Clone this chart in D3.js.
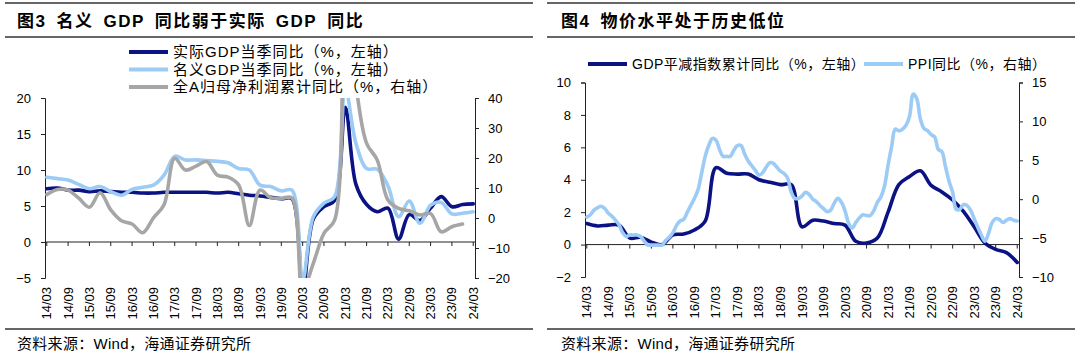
<!DOCTYPE html>
<html><head><meta charset="utf-8">
<script src="https://cdn.jsdelivr.net/npm/d3@7"></script>
<style>
body{margin:0;background:#fff;}
svg text{font-family:"Liberation Sans",Arial,"Noto Sans CJK SC",sans-serif;fill:#000;}
</style>
</head><body>
<svg id="c" width="1080" height="357"></svg>
<script>
// ---------- data ----------
const tickLabels = ["14/03","14/09","15/03","15/09","16/03","16/09","17/03","17/09","18/03","18/09","19/03","19/09","20/03","20/09","21/03","21/09","22/03","22/09","23/03","23/09","24/03"];
const quarterLabels = ["2014-03","2014-06","2014-09","2014-12","2015-03","2015-06","2015-09","2015-12","2016-03","2016-06","2016-09","2016-12","2017-03","2017-06","2017-09","2017-12","2018-03","2018-06","2018-09","2018-12","2019-03","2019-06","2019-09","2019-12","2020-03","2020-06","2020-09","2020-12","2021-03","2021-06","2021-09","2021-12","2022-03","2022-06","2022-09","2022-12","2023-03","2023-06","2023-09","2023-12","2024-03"];
// Fig 3 (left axis: %, right axis: %)
const realGDP = [7.4,7.5,7.2,7.2,7.0,7.1,7.0,6.9,6.9,6.8,6.8,6.9,6.9,6.9,6.9,6.9,6.8,6.9,6.7,6.5,6.4,6.2,6.0,6.0,-6.8,3.2,4.9,5.8,18.7,8.0,5.2,4.2,4.7,0.4,3.8,3.0,4.7,6.3,4.9,5.2,5.3];
const nominalGDP = [9.0,8.8,8.6,8.0,7.4,7.7,7.0,6.5,7.3,7.6,7.9,9.3,11.9,11.4,11.4,11.3,11.2,11.0,10.2,10.0,7.9,7.7,7.1,7.2,-5.3,3.5,5.4,6.3,21.2,13.7,10.2,10.1,7.8,3.5,5.7,2.6,5.1,5.5,3.9,4.0,4.2];
const aShareProfit = [7.8,9.5,9.3,6.6,3.6,8.4,2.7,-0.9,-2.0,-4.9,0.0,4.4,19.9,16.0,17.3,18.8,14.3,13.6,11.0,-2.5,9.3,6.8,6.6,6.6,-24,-15.1,-5.1,-0.7,70,44,24.9,19.3,6.0,3.2,2.4,1.0,1.5,-4.6,-2.9,-2.0,null];
// Fig 4
const gdpDeflator = [1.3,1.15,1.2,1.2,0.4,0.45,0.15,0.0,0.6,0.65,0.9,1.45,4.75,4.4,4.35,4.35,4.0,3.85,3.7,3.7,1.1,1.5,1.45,1.3,1.2,0.2,0.1,0.4,2.0,3.7,4.2,4.55,3.65,3.25,2.75,2.05,1.1,0.1,-0.3,-0.5,-1.1];
const ppiStart = "2014-03"; // monthly from here
const ppi = [-2.3,-2.0,-1.4,-1.1,-0.9,-1.2,-1.8,-2.2,-2.7,-3.3,
 -4.3,-4.8,-4.6,-4.6,-4.6,-4.8,-5.4,-5.9,-5.9,-5.9,-5.9,-5.9,
 -5.3,-4.9,-4.3,-3.4,-2.8,-2.6,-1.7,-0.8,0.1,1.2,3.3,5.5,
 6.9,7.8,7.6,6.4,5.5,5.5,5.5,6.3,6.9,6.9,5.8,4.9,
 4.3,3.7,3.1,3.4,4.1,4.7,4.6,4.1,3.6,3.3,2.7,0.9,
 0.1,0.1,0.4,0.9,0.6,0.0,-0.3,-0.8,-1.2,-1.6,-1.4,-0.5,
 0.1,-0.4,-1.5,-3.1,-3.7,-3.0,-2.4,-2.0,-2.1,-2.1,-1.5,-0.4,
 0.3,1.7,4.4,6.8,9.0,8.8,9.0,9.5,10.7,13.5,12.9,10.3,
 9.1,8.8,8.3,8.0,6.4,6.1,4.2,2.3,0.9,-1.3,-1.3,-0.7,
 -0.8,-1.4,-2.5,-3.6,-4.6,-5.4,-4.4,-3.0,-2.5,-2.6,-3.0,-2.7,
 -2.5,-2.7,-2.8];
const ticksA_L = [-5,0,5,10,15,20];
const ticksA_R = [-20,-10,0,10,20,30,40];
const ticksB_L = [-2,0,2,4,6,8,10];
const ticksB_R = [-10,-5,0,5,10,15];

// ---------- helpers ----------
const COL = {dark:"#0b1283", light:"#9ccbf5", gray:"#a6a6a6", rule:"#333"};
const svg = d3.select("#c");
function monthIndex(s){const [y,m]=s.split("-").map(Number);return (y-2014)*12+(m-3);}
function labelMonth(l){const [y,m]=l.split("/").map(Number);return (y-14)*12+(m-3);}
const ppiOffset = monthIndex(ppiStart);

function frame(x0,x1,title,tx){
  [3,37,329].forEach(y=>svg.append("line").attr("x1",x0).attr("x2",x1).attr("y1",y).attr("y2",y)
    .attr("stroke",COL.rule).attr("stroke-width",1.3));
  svg.append("text").attr("x",tx).attr("y",27).attr("font-size",17).attr("font-weight","bold")
    .attr("letter-spacing","1.5px").style("white-space","pre").text(title);
  svg.append("text").attr("x",tx).attr("y",349).attr("font-size",15).attr("letter-spacing","0.3px")
    .text("资料来源：Wind，海通证券研究所");
}

function plot(o){
  const x = d3.scaleLinear().domain([-0.5,120.5]).range([o.x0,o.x1]);
  const yL = d3.scaleLinear().domain(o.yLdom).range([o.yb,o.yt]);
  const yR = d3.scaleLinear().domain(o.yRdom).range([o.yb,o.yt]);
  const g = svg.append("g");
  const cid = "clip"+o.id;
  svg.append("clipPath").attr("id",cid).append("rect")
    .attr("x",o.x0).attr("y",o.yt).attr("width",o.x1-o.x0).attr("height",o.yb-o.yt);
  const aL = g.append("g").attr("transform",`translate(${o.x0},0)`)
    .call(d3.axisLeft(yL).tickValues(o.tL).tickSize(4).tickPadding(10).tickFormat(d3.format("d")));
  const aR = g.append("g").attr("transform",`translate(${o.x1},0)`)
    .call(d3.axisRight(yR).tickValues(o.tR).tickSize(4).tickPadding(9).tickFormat(d3.format("d")));
  [aL,aR].forEach(a=>{
    a.selectAll("path,line").attr("stroke","#222").attr("stroke-width",1);
    a.selectAll("text").attr("font-size",13).attr("fill","#000")
      .style("font-family",'"Liberation Sans",Arial,sans-serif');
  });
  const y0 = yL(0);
  g.append("line").attr("x1",o.x0).attr("x2",o.x1).attr("y1",y0).attr("y2",y0).attr("stroke","#222");
  tickLabels.forEach(l=>{
    const xx = x(labelMonth(l));
    g.append("line").attr("x1",xx).attr("x2",xx).attr("y1",y0).attr("y2",y0+4).attr("stroke","#222");
    g.append("text").attr("transform",`translate(${xx+4.5},${o.yb+9}) rotate(-90)`)
      .attr("text-anchor","end").attr("font-size",13).text(l);
  });
  const lines = svg.append("g").attr("clip-path",`url(#${cid})`);
  o.series.forEach(s=>{
    const ys = s.axis==="R"?yR:yL;
    const line = d3.line().defined(d=>d.v!=null).curve(d3.curveCatmullRom.alpha(0.5))
      .x(d=>x(d.m)).y(d=>ys(d.v));
    lines.append("path").datum(s.data).attr("d",line).attr("fill","none")
      .attr("stroke",s.color).attr("stroke-width",s.w||3.6).attr("stroke-linejoin","round").attr("stroke-linecap","round");
  });
}

function legendItem(x,y,color,text,fs,ls){
  svg.append("line").attr("x1",x).attr("x2",x+39).attr("y1",y).attr("y2",y)
    .attr("stroke",color).attr("stroke-width",4);
  svg.append("text").attr("x",x+44).attr("y",y+5).attr("font-size",fs).attr("letter-spacing",ls).text(text);
}

const qData = arr => arr.map((v,i)=>({m:monthIndex(quarterLabels[i]),v}));

// ---------- Figure 3 ----------
frame(5,533,"图3\u2002名义\u2002GDP\u2002同比弱于实际\u2002GDP\u2002同比",17);
plot({id:"A",x0:45,x1:475,yb:278,yt:98,yLdom:[-5,20],yRdom:[-20,40],tL:ticksA_L,tR:ticksA_R,
  series:[
    {data:qData(realGDP),color:COL.dark,axis:"L"},
    {data:qData(nominalGDP),color:COL.light,axis:"L"},
    {data:qData(aShareProfit),color:COL.gray,axis:"R"}
  ]});
legendItem(129,52,COL.dark,"实际GDP当季同比（%，左轴）",15,"1px");
legendItem(129,69.5,COL.light,"名义GDP当季同比（%，左轴）",15,"1px");
legendItem(129,87,COL.gray,"全A归母净利润累计同比（%，右轴）",15,"1px");

// ---------- Figure 4 ----------
frame(547,1075,"图4\u2002物价水平处于历史低位",561);
plot({id:"B",x0:585,x1:1019,yb:277,yt:82.5,yLdom:[-2,10],yRdom:[-10,15],tL:ticksB_L,tR:ticksB_R,
  series:[
    {data:qData(gdpDeflator),color:COL.dark,axis:"L"},
    {data:ppi.map((v,i)=>({m:ppiOffset+i,v})),color:COL.light,axis:"R"}
  ]});
legendItem(588,64,COL.dark,"GDP平减指数累计同比（%，左轴）",14,"0.5px");
legendItem(864,64,COL.light,"PPI同比（%，右轴）",14,"0.5px");
</script>
</body></html>
